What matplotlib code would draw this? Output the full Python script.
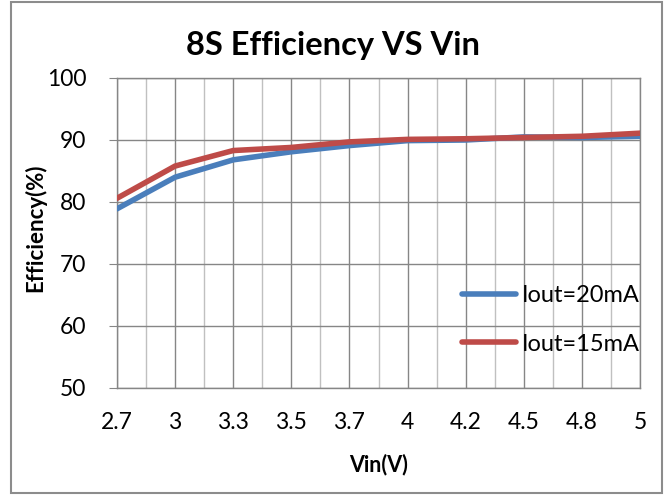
import matplotlib
matplotlib.use("Agg")
import matplotlib.pyplot as plt
import numpy as np
from matplotlib.patches import Rectangle

# data
vin_labels = ["2.7", "3", "3.3", "3.5", "3.7", "4", "4.2", "4.5", "4.8", "5"]
eff_20ma = [78.9, 84.0, 86.8, 88.1, 89.1, 89.9, 90.0, 90.5, 90.4, 90.6]
eff_15ma = [80.6, 85.8, 88.3, 88.8, 89.7, 90.1, 90.2, 90.4, 90.6, 91.1]
series_names = ["Iout=20mA", "Iout=15mA"]

plt.rcParams['font.family'] = ['Lato', 'DejaVu Sans']

fig = plt.figure(figsize=(6.65, 4.95), dpi=100)
ax = fig.add_axes([117 / 665, 1 - 388 / 495, 523 / 665, 310 / 495])

x = np.arange(len(vin_labels))
ax.plot(x, eff_20ma, color="#4A7EBB", lw=4, label=series_names[0], zorder=3,
        solid_capstyle="round", solid_joinstyle="round")
ax.plot(x, eff_15ma, color="#BE4B48", lw=4, label=series_names[1], zorder=4,
        solid_capstyle="round", solid_joinstyle="round")

ax.set_xlim(0, len(vin_labels) - 1)
ax.set_ylim(50, 100)
ax.set_xticks(x)
ax.set_xticklabels(vin_labels)
ax.set_xticks(x[:-1] + 0.5, minor=True)
ax.set_yticks(np.arange(50, 101, 10))

# Excel style gridlines
ax.grid(True, which="major", color="#868686", lw=1.0)
ax.grid(True, which="minor", axis="x", color="#C0C0C0", lw=1.0)
ax.set_axisbelow(True)
for s in ax.spines.values():
    s.set_color("#868686")
    s.set_linewidth(1.0)

ax.tick_params(axis="y", length=6, color="#868686", labelsize=16.5, pad=16)
ax.tick_params(axis="x", length=0, labelsize=16.5, pad=17)
ax.tick_params(axis="x", which="minor", length=0)

ax.set_xlabel("Vin(V)", fontsize=15.5, fontweight="bold")
ax.set_ylabel("Efficiency(%)", fontsize=16, fontweight="bold")
ax.xaxis.set_label_coords(0.5, -(465 - 388) / 310, transform=ax.transAxes)
ax.yaxis.set_label_coords(-(117 - 35) / 523, (388 - 228) / 310)
ax.xaxis.label.set_va("center")
ax.yaxis.label.set_va("center")
fig.text(333 / 665, 1 - 45 / 495, "8S Efficiency VS Vin", ha="center", va="center",
         fontsize=23.5, fontweight="bold")

leg = ax.legend(loc="center left", bbox_to_anchor=(462 / 665, 1 - 320 / 495),
                bbox_transform=fig.transFigure, frameon=False, fontsize=17,
                handlelength=2.3, handletextpad=0.25, labelspacing=1.15,
                borderpad=0, borderaxespad=0)
for h in leg.get_lines():
    h.set_solid_capstyle("round")

# outer chart border
fig.patches.append(Rectangle((11 / 665, 2 / 495), 651 / 665, 491 / 495,
                             transform=fig.transFigure, fill=False,
                             edgecolor="#8C8C8C", lw=1.5))

fig.savefig("out.png", dpi=100)
